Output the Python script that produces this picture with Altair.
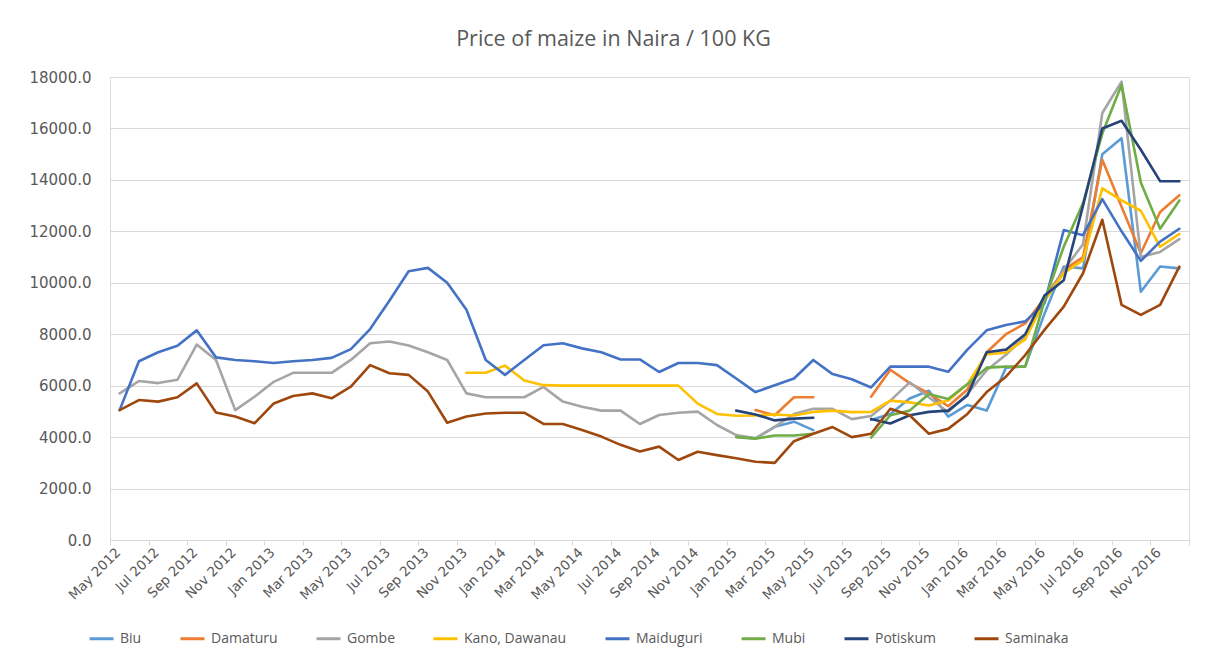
import altair as alt
import pandas as pd

# ---- categories -------------------------------------------------------------
months = [
    "May 2012", "Jun 2012", "Jul 2012", "Aug 2012", "Sep 2012", "Oct 2012", "Nov 2012", "Dec 2012",
    "Jan 2013", "Feb 2013", "Mar 2013", "Apr 2013", "May 2013", "Jun 2013", "Jul 2013", "Aug 2013",
    "Sep 2013", "Oct 2013", "Nov 2013", "Dec 2013", "Jan 2014", "Feb 2014", "Mar 2014", "Apr 2014",
    "May 2014", "Jun 2014", "Jul 2014", "Aug 2014", "Sep 2014", "Oct 2014", "Nov 2014", "Dec 2014",
    "Jan 2015", "Feb 2015", "Mar 2015", "Apr 2015", "May 2015", "Jun 2015", "Jul 2015", "Aug 2015",
    "Sep 2015", "Oct 2015", "Nov 2015", "Dec 2015", "Jan 2016", "Feb 2016", "Mar 2016", "Apr 2016",
    "May 2016", "Jun 2016", "Jul 2016", "Aug 2016", "Sep 2016", "Oct 2016", "Nov 2016", "Dec 2016",
]
tick_labels = [
    "May 2012", "Jul 2012", "Sep 2012", "Nov 2012", "Jan 2013", "Mar 2013", "May 2013",
    "Jul 2013", "Sep 2013", "Nov 2013", "Jan 2014", "Mar 2014", "May 2014", "Jul 2014",
    "Sep 2014", "Nov 2014", "Jan 2015", "Mar 2015", "May 2015", "Jul 2015", "Sep 2015",
    "Nov 2015", "Jan 2016", "Mar 2016", "May 2016", "Jul 2016", "Sep 2016", "Nov 2016",
]
y_ticks = [0, 2000, 4000, 6000, 8000, 10000, 12000, 14000, 16000, 18000]

N = None
# ---- series values (Naira / 100 kg) ------------------------------------------
biu = [N] * 32 + [4020, 3950, 4400, 4600, 4270, N, N, 4670, 4900, 5500, 5800, 4800,
                  5250, 5030, 6700, 6750, 8800, 10630, 10560, 15000, 15620, 9650, 10630, 10560]
damaturu = [N] * 33 + [5050, 4850, 5550, 5550, N, N, 5570, 6620, 6100, 5700, 5200,
                       5850, 7300, 8000, 8420, 9400, 10500, 11000, 14780, 12960, 11150, 12750, 13400]
gombe = [5700, 6180, 6100, 6230, 7600, 7000, 5050, 5570, 6150, 6500, 6500, 6500, 7000, 7650,
         7720, 7560, 7300, 7000, 5700, 5550, 5550, 5550, 5950, 5380, 5180, 5030, 5030, 4510,
         4860, 4950, 4990, 4470, 4080, 3950, 4400, 4900, 5100, 5100, 4700, 4820, 5420, 6130,
         5550, 4970, 5680, 6600, 7200, 7900, 9300, 10500, 11500, 16600, 17820, 11000, 11200, 11700]
kano = [N] * 18 + [6500, 6500, 6780, 6200, 6020, 6000, 6000, 6000, 6000, 6000, 6000, 6000,
                   5300, 4900, 4830, 4840, 4880, 4840, 4980, 5030, 4970, 4980, 5420, 5350,
                   5230, 5420, 6060, 7220, 7280, 7800, 9300, 10370, 10880, 13670, 13200, 12800,
                   11400, 11900]
maiduguri = [5050, 6950, 7300, 7550, 8150, 7100, 7000, 6950, 6880, 6950, 7000, 7080, 7420, 8200,
             9300, 10450, 10580, 10000, 8950, 7000, 6420, 7000, 7570, 7650, 7450, 7300, 7020, 7020,
             6530, 6880, 6880, 6800, 6280, 5750, 6020, 6280, 7000, 6450, 6250, 5930, 6740, 6740,
             6740, 6540, 7400, 8150, 8360, 8500, 9200, 12050, 11850, 13250, 12000, 10850, 11600, 12100]
mubi = [N] * 32 + [4000, 3940, 4060, 4060, 4130, N, N, 3980, 4850, 5030, 5680, 5480,
                   6060, 6700, 6740, 6740, 9300, 11400, 13100, 15800, 17700, 13900, 12100, 13200]
potiskum = [N] * 32 + [5030, 4880, 4650, 4720, 4750, N, N, 4700, 4530, 4850, 4980, 5030,
                       5620, 7300, 7400, 8000, 9500, 10100, 13000, 16000, 16300, 15170, 13950, 13950]
saminaka = [5050, 5440, 5380, 5550, 6090, 4960, 4800, 4540, 5310, 5600, 5700, 5510, 5960, 6800,
            6480, 6420, 5770, 4560, 4800, 4920, 4950, 4950, 4510, 4510, 4280, 4020, 3700, 3440,
            3630, 3110, 3430, 3300, 3180, 3040, 3000, 3840, 4130, 4390, 4000, 4130, 5100, 4850,
            4130, 4320, 4900, 5750, 6350, 7190, 8170, 9070, 10370, 12450, 9140, 8750, 9140, 10630]

series_names = ["Biu", "Damaturu", "Gombe", "Kano, Dawanau", "Maiduguri", "Mubi", "Potiskum", "Saminaka"]
series_values = [biu, damaturu, gombe, kano, maiduguri, mubi, potiskum, saminaka]
series_colors = ["#5B9BD5", "#ED7D31", "#A5A5A5", "#FFC000", "#4472C4", "#70AD47", "#264478", "#9E480E"]

# ---- long table, with a segment id so gaps break the lines --------------------
rows = []
for order, (name, vals) in enumerate(zip(series_names, series_values)):
    seg = 0
    gap = False
    for i, v in enumerate(vals):
        if v is None:
            gap = True
            continue
        if gap:
            seg += 1
            gap = False
        rows.append({"idx": i, "month": months[i], "value": v, "series": name,
                     "seg": f"{order}-{name}-{seg}"})
df = pd.DataFrame(rows)

tick_vals = [k - 0.5 for k in range(0, 57, 2)]
label_js = "[" + ",".join(f"'{t}'" for t in tick_labels) + "]"
label_expr = f"{label_js}[round((datum.value + 0.5) / 2)] || ''"

TXT = "#595959"
FONT = "Open Sans"
AXFONT = "DejaVu Sans"

chart = (
    alt.Chart(df)
    .mark_line(strokeWidth=2.6, strokeJoin="round", strokeCap="round")
    .encode(
        x=alt.X(
            "idx:Q",
            scale=alt.Scale(domain=[-0.5, 55.5], nice=False, zero=False),
            axis=alt.Axis(
                values=tick_vals, labelExpr=label_expr, title=None, grid=False,
                labelAngle=315, labelAlign="right", labelBaseline="middle",
                labelOffset=8, labelPadding=5, labelFont=AXFONT, labelFontSize=13.5,
                labelColor=TXT, domainColor="#D9D9D9", tickColor="#D9D9D9",
                tickSize=5, labelOverlap=False, labelBound=False, labelFlush=False,
            ),
        ),
        y=alt.Y(
            "value:Q",
            scale=alt.Scale(domain=[0, 18000], nice=False),
            axis=alt.Axis(
                values=y_ticks, format=".1f", title=None, domain=False, ticks=False,
                gridColor="#D9D9D9", labelPadding=19, labelFont=AXFONT, labelFontSize=15,
                labelColor=TXT,
            ),
        ),
        color=alt.Color(
            "series:N",
            scale=alt.Scale(domain=series_names, range=series_colors),
            legend=alt.Legend(
                title=None, orient="none", direction="horizontal", legendX=-22, legendY=548,
                symbolType="stroke", symbolSize=576, symbolStrokeWidth=3,
                labelFont=FONT, labelFontSize=14, labelColor=TXT, labelOffset=5,
                columnPadding=32, columns=8,
            ),
        ),
        detail="seg:N",
        order="idx:Q",
    )
    .properties(
        width=1079,
        height=463,
        autosize=alt.AutoSizeParams(type="none"),
        padding={"left": 102, "top": 69, "right": 10, "bottom": 110},
        title=alt.TitleParams(
            "Price of maize in Naira / 100 KG", font=FONT, fontSize=21.5, fontWeight="normal",
            color=TXT, anchor="middle", dx=-36, offset=20,
        ),
    )
    .configure_view(stroke=None)
    .configure(background="white")
)

chart.save("out.html", embed_options={"renderer": "svg", "actions": False})
